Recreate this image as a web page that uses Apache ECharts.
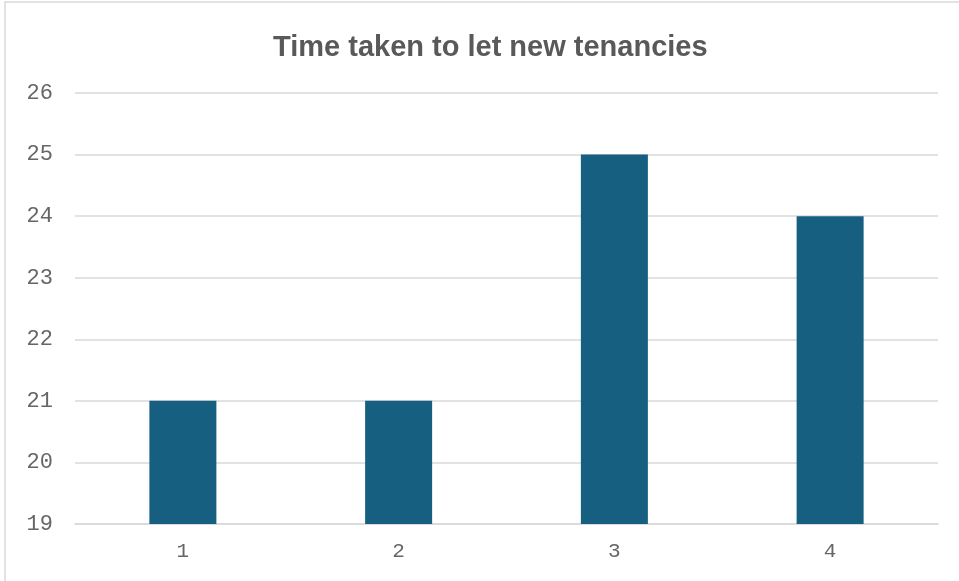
<!DOCTYPE html>
<html>
<head>
<meta charset="utf-8">
<script src="https://cdn.jsdelivr.net/npm/echarts@6/dist/echarts.min.js"></script>
<style>
  html, body { margin: 0; padding: 0; background: #fff; }
  #chart { width: 959px; height: 581px; }
</style>
</head>
<body>
<div id="chart"></div>
<script>
var categories = ["1", "2", "3", "4"];
var values = [21, 21, 25, 24];

var myChart = echarts.init(document.getElementById("chart"));
var option = {
  animation: false,
  // outer chart border
  graphic: [{
    type: "rect",
    shape: { x: 5, y: 2, width: 1000, height: 700 },
    style: { fill: "none", stroke: "#d9d9d9", lineWidth: 1.5 },
    silent: true
  }],
  title: {
    text: "Time taken to let new tenancies",
    left: 268,
    top: 28,
    textStyle: {
      fontFamily: "Liberation Sans",
      fontWeight: "bold",
      fontSize: 29,
      color: "#595959"
    }
  },
  grid: { left: 75, right: 21, top: 93, bottom: 57 },
  xAxis: {
    type: "category",
    data: categories,
    axisLine: { show: true, lineStyle: { color: "#d9d9d9", width: 1.5 } },
    axisTick: { show: false },
    axisLabel: {
      margin: 17,
      fontFamily: "Liberation Mono",
      fontSize: 21,
      color: "#666666"
    }
  },
  yAxis: {
    type: "value",
    min: 19,
    max: 26,
    interval: 1,
    axisLine: { show: false },
    axisTick: { show: false },
    splitLine: { lineStyle: { color: "#d9d9d9", width: 1.5 } },
    axisLabel: {
      margin: 22,
      fontFamily: "Liberation Mono",
      fontSize: 22,
      color: "#666666"
    }
  },
  series: [{
    type: "bar",
    data: values,
    barWidth: 67,
    itemStyle: { color: "#175f80" }
  }]
};
myChart.setOption(option);
</script>
</body>
</html>
